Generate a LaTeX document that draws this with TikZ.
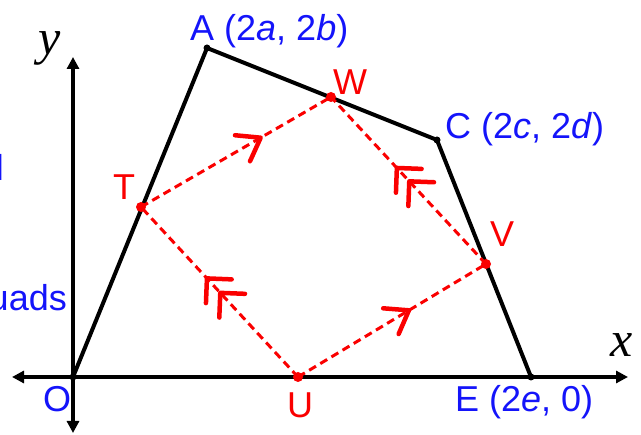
\documentclass[tikz,border=0pt]{standalone}
\usepackage{fontspec}
\setmainfont{Liberation Sans}
\newfontfamily\axisfont{Liberation Serif}
\usetikzlibrary{arrows.meta,decorations.markings}
\definecolor{ptblue}{RGB}{20,20,250}
\definecolor{midred}{RGB}{250,0,0}

\begin{document}
\begin{tikzpicture}[x=1pt,y=-1pt,
		lbl/.style={inner sep=0pt,anchor=base west,font=\fontsize{36}{42}\selectfont},
		axislbl/.style={inner sep=0pt,anchor=base west,font=\axisfont\itshape\fontsize{50}{56}\selectfont},
		axis/.style={line width=3.5pt,{Triangle[length=12pt,width=12pt]}-{Triangle[length=12pt,width=12pt]}},
		midline/.style={midred,line width=3pt,dash pattern=on 8pt off 5pt},
		chev/.style={postaction={decorate,decoration={markings,mark=at position #1 with {\draw[solid,line width=4.5pt,line cap=round,line join=round] (-21,15) -- (0,0) -- (-21,-15);}}}},
		dchev/.style={postaction={decorate,decoration={markings,mark=at position #1 with {\draw[solid,line width=4.5pt,line cap=round,line join=round] (-17.5,17.5) -- (0,0) -- (-17.5,-17.5);}}}}]
		\useasboundingbox (0,0) rectangle (641,435);
		% corners and midpoints
		\coordinate (O) at (73,377);
		\coordinate (A) at (207,48);
		\coordinate (C) at (437,140);
		\coordinate (E) at (531,377);
		\coordinate (T) at (141,207);
		\coordinate (W) at (331,97);
		\coordinate (V) at (486,264);
		\coordinate (U) at (298,377);
		% axes
		\coordinate (xl) at (12,377);
		\coordinate (xr) at (628,377);
		\coordinate (yb) at (73,433);
		\coordinate (yt) at (73,57);
		\draw[axis] (xl) -- (xr);
		\draw[axis] (yb) -- (yt);
		\node[axislbl] (xlab) at (610,357) {x};
		\node[axislbl] (ylab) at (38,55) {y};
		% quadrilateral
		\draw[line width=4pt,line join=miter] (O) -- (A) -- (C) -- (E);
		% midpoint quadrilateral
		\draw[midline,chev=0.63] (T) -- (W);
		\draw[midline,chev=0.59] (U) -- (V);
		\draw[midline,dchev=0.495,dchev=0.575] (V) -- (W);
		\draw[midline,dchev=0.495,dchev=0.58] (U) -- (T);
		\foreach \p in {O,A,C,E} \fill (\p) circle (3.5);
		\foreach \p in {T,W,V,U} \fill[midred] (\p) circle (5);
		% labels
		\node[lbl,text=ptblue] (Alab) at (190,41) {A (2\textit{a}, 2\textit{b})};
		\node[lbl,text=ptblue] (Clab) at (445,139) {C (2\textit{c}, 2\textit{d})};
		\node[lbl,text=ptblue] (Elab) at (455,412) {E (2\textit{e}, 0)};
		\node[lbl,text=ptblue] (Olab) at (43,412) {O};
		\node[lbl,text=midred] (Wlab) at (333,95) {W};
		\node[lbl,text=midred] (Tlab) at (113,200) {T};
		\node[lbl,text=midred] (Vlab) at (490,247) {V};
		\node[lbl,text=midred] (Ulab) at (287,418) {U};
		\node[lbl,text=ptblue,anchor=base east] (quads) at (67,311) {uads};
		\node[lbl,text=ptblue,anchor=base east] (frag) at (4,181) {l};
\end{tikzpicture}
\end{document}
